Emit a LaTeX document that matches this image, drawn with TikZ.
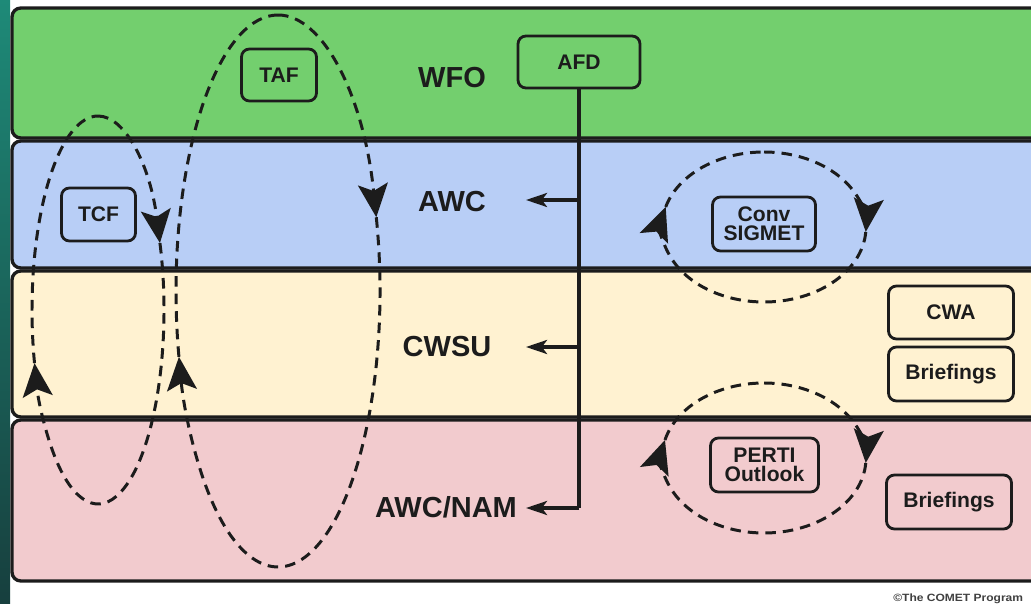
\documentclass[tikz,border=0pt]{standalone}
\usepackage{fontspec}
\setmainfont{Liberation Sans}
\usetikzlibrary{arrows.meta}
\definecolor{wfogreen}{HTML}{73CF6E}
\definecolor{awcblue}{HTML}{B8CEF6}
\definecolor{cwsuyellow}{HTML}{FFF2D1}
\definecolor{nampink}{HTML}{F2CBCE}
\definecolor{inkdark}{HTML}{1C1C1C}
\definecolor{stripA}{HTML}{1E8A78}
\definecolor{stripB}{HTML}{173F3E}
\tikzset{
  band/.style={draw=inkdark, line width=1.9pt, rounded corners=5pt},
  prodbox/.style={draw=inkdark, line width=1.6pt, rounded corners=4.5pt, inner sep=0pt,
    align=center, font=\fontsize{12}{11}\selectfont\bfseries, text=inkdark},
  lanelabel/.style={font=\fontsize{16.5}{18}\selectfont\bfseries, text=inkdark, inner sep=0pt, anchor=base},
  trunk/.style={draw=inkdark, line width=1.8pt},
  feed/.style={trunk, -{Stealth[length=12pt,width=8pt,inset=3pt]}},
  loopseg/.style={draw=inkdark, line width=1.7pt, dash pattern=on 6pt off 4pt},
  looptip/.style={loopseg, -{Stealth[length=19pt,width=17pt,inset=4pt]}},
}
\newcommand\drawcycle[5]{%
  \draw[looptip] (#1) ++(-90:#2 and #3) arc[start angle=-90, end angle=#4, x radius=#2, y radius=#3];
  \draw[looptip] (#1) ++(#4:#2 and #3) arc[start angle=#4, end angle=#5, x radius=#2, y radius=#3];
  \draw[loopseg] (#1) ++(#5:#2 and #3) arc[start angle=#5, end angle=270, x radius=#2, y radius=#3];
}
\begin{document}
\begin{tikzpicture}[x=0.02cm, y=-0.02cm]
\useasboundingbox (0,0) rectangle (1031,604);
\begin{scope}
\clip (0,0) rectangle (1031,604);
\fill[white] (0,0) rectangle (1031,604);
\shade[top color=stripA, bottom color=stripB] (0,0) rectangle (10,604);
% bands
\draw[band, fill=wfogreen] (12,8) rectangle (1050,138);
\draw[band, fill=awcblue] (12,141) rectangle (1050,268);
\draw[band, fill=cwsuyellow] (12,271) rectangle (1050,417);
\draw[band, fill=nampink] (12,420) rectangle (1050,581);
% lane labels
\node[lanelabel] (wfo) at (452,88) {WFO};
\node[lanelabel] (awc) at (452,212) {AWC};
\node[lanelabel] (cwsu) at (447,357) {CWSU};
\node[lanelabel] (nam) at (446,517) {AWC/NAM};
% product boxes
\node[prodbox, minimum width=2.44cm, minimum height=1.04cm] (afd) at (579,62) {AFD};
\node[prodbox, minimum width=1.5cm, minimum height=1.04cm] (taf) at (279,75) {TAF};
\node[prodbox, minimum width=1.48cm, minimum height=1.06cm] (tcf) at (98.5,214.5) {TCF};
\node[prodbox, minimum width=2.06cm, minimum height=1.08cm] (sigmet) at (764,224) {Conv\\SIGMET};
\node[prodbox, minimum width=2.16cm, minimum height=1.08cm] (perti) at (764.5,465) {PERTI\\Outlook};
\node[prodbox, minimum width=2.5cm, minimum height=1.06cm] (cwa) at (951,312.5) {CWA};
\node[prodbox, minimum width=2.5cm, minimum height=1.08cm] (brief1) at (951,374) {Briefings};
\node[prodbox, minimum width=2.5cm, minimum height=1.08cm] (brief2) at (949,502) {Briefings};
% AFD distribution
\coordinate (afdcorner) at (579,508);
\coordinate (awcbranch) at (579,200);
\coordinate (cwsubranch) at (579,347);
\coordinate (awcin) at (526,200);
\coordinate (cwsuin) at (526,347);
\coordinate (namin) at (526,508);
\draw[trunk] (afd.south) -- (afdcorner);
\draw[feed] (afdcorner) -- (namin);
\draw[feed] (awcbranch) -- (awcin);
\draw[feed] (cwsubranch) -- (cwsuin);
% cycle loops
\coordinate (tcfc) at (98,310);
\coordinate (tafc) at (278,291);
\coordinate (sigc) at (764,227);
\coordinate (pertic) at (764,458);
\drawcycle{tcfc}{66}{194}{-20.2}{164.1}
\drawcycle{tafc}{102}{276}{-15.5}{166.2}
\drawcycle{sigc}{102}{75}{3.8}{195.5}
\drawcycle{pertic}{102}{75}{3.8}{193.9}
% credit
\node[anchor=base west, inner sep=0pt, text=black!75, font=\fontsize{6}{7}\selectfont\bfseries] (credit) at (893,601) {\scalebox{1.14}[1]{©The COMET Program}};
\end{scope}
\end{tikzpicture}
\end{document}
